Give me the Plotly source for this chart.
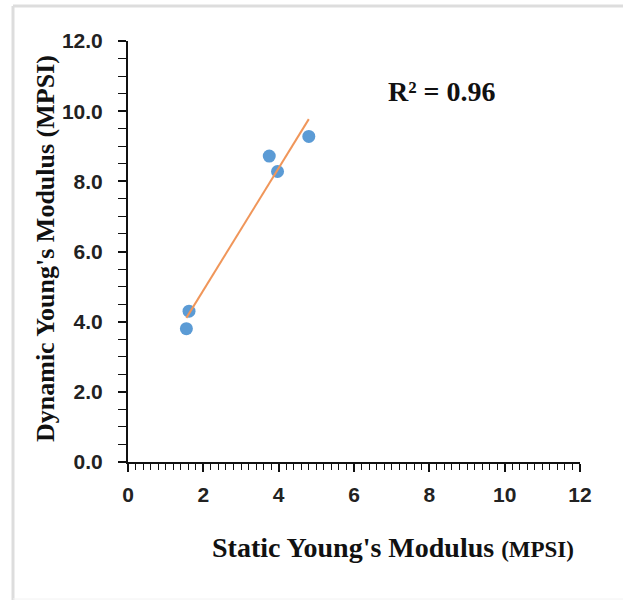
import numpy as np
import plotly.graph_objects as go

# Data
static_modulus = [1.55, 1.62, 3.75, 3.97, 4.80]
dynamic_modulus = [3.80, 4.30, 8.72, 8.28, 9.28]
r2_label = "R² = 0.96"
x_ticks = [0, 2, 4, 6, 8, 10, 12]
y_ticks = [0, 2, 4, 6, 8, 10, 12]

# Linear trendline from the data
slope, intercept = np.polyfit(static_modulus, dynamic_modulus, 1)
trend_x = [min(static_modulus), max(static_modulus)]
trend_y = [slope * v + intercept for v in trend_x]

W, H = 623, 600
L, R, T, B = 128, 43, 41, 138
pw, ph = W - L - R, H - T - B

def px(xp):
    return (xp - L) / pw

def py(yp):
    return (H - B - yp) / ph

fig = go.Figure()
fig.add_trace(go.Scatter(
    x=static_modulus, y=dynamic_modulus, mode="markers",
    marker=dict(color="#5B9BD5", size=13, line=dict(width=0)),
    showlegend=False, cliponaxis=False))
fig.add_trace(go.Scatter(
    x=trend_x, y=trend_y, mode="lines",
    line=dict(color="#F0965A", width=2),
    showlegend=False, cliponaxis=False))

tickfont = dict(family="Liberation Sans", size=21, color="#222", weight="bold")
serif = "Liberation Serif"

fig.update_layout(
    width=W, height=H,
    margin=dict(l=L, r=R, t=T, b=B),
    paper_bgcolor="white", plot_bgcolor="white",
    xaxis=dict(
        range=[0, 12], tickvals=x_ticks, ticktext=[str(v) for v in x_ticks],
        showgrid=False, zeroline=False,
        showline=True, linecolor="#111", linewidth=2,
        ticks="outside", ticklen=8, tickwidth=1.5, tickcolor="#111",
        minor=dict(dtick=0.2, ticks="outside", ticklen=6, tickwidth=1.2, tickcolor="#111"),
        tickfont=tickfont, ticklabelstandoff=5,
    ),
    yaxis=dict(
        range=[0, 12], tickvals=y_ticks, ticktext=[f"{v:.1f}" for v in y_ticks],
        showgrid=False, zeroline=False,
        showline=True, linecolor="#111", linewidth=2,
        ticks="outside", ticklen=8, tickwidth=1.5, tickcolor="#111",
        minor=dict(dtick=0.5, ticks="outside", ticklen=8, tickwidth=1.2, tickcolor="#111"),
        tickfont=tickfont, ticklabelstandoff=11,
    ),
    annotations=[
        dict(text=r2_label, xref="paper", yref="paper", x=px(442), y=py(92),
             showarrow=False, xanchor="center", yanchor="middle",
             font=dict(family=serif, size=28, color="#111", weight="bold")),
        dict(text="Static Young's Modulus <span style='font-size:23px'>(MPSI)</span>",
             xref="paper", yref="paper", x=px(393), y=py(547),
             showarrow=False, xanchor="center", yanchor="middle",
             font=dict(family=serif, size=28, color="#111", weight="bold")),
        dict(text="Dynamic Young's Modulus (MPSI)",
             xref="paper", yref="paper", x=px(45), y=py(249),
             showarrow=False, xanchor="center", yanchor="middle", textangle=-90,
             font=dict(family=serif, size=26, color="#111", weight="bold")),
    ],
    shapes=[
        dict(type="line", xref="paper", yref="paper", x0=px(13), x1=px(623), y0=py(6), y1=py(6),
             line=dict(color="#DDDDDD", width=3)),
        dict(type="line", xref="paper", yref="paper", x0=px(13), x1=px(13), y0=py(6), y1=py(600),
             line=dict(color="#DDDDDD", width=3)),
        dict(type="line", xref="paper", yref="paper", x0=px(13), x1=px(623), y0=py(599), y1=py(599),
             line=dict(color="#F2F2F2", width=1)),
    ],
)

fig.write_html("out.html")
